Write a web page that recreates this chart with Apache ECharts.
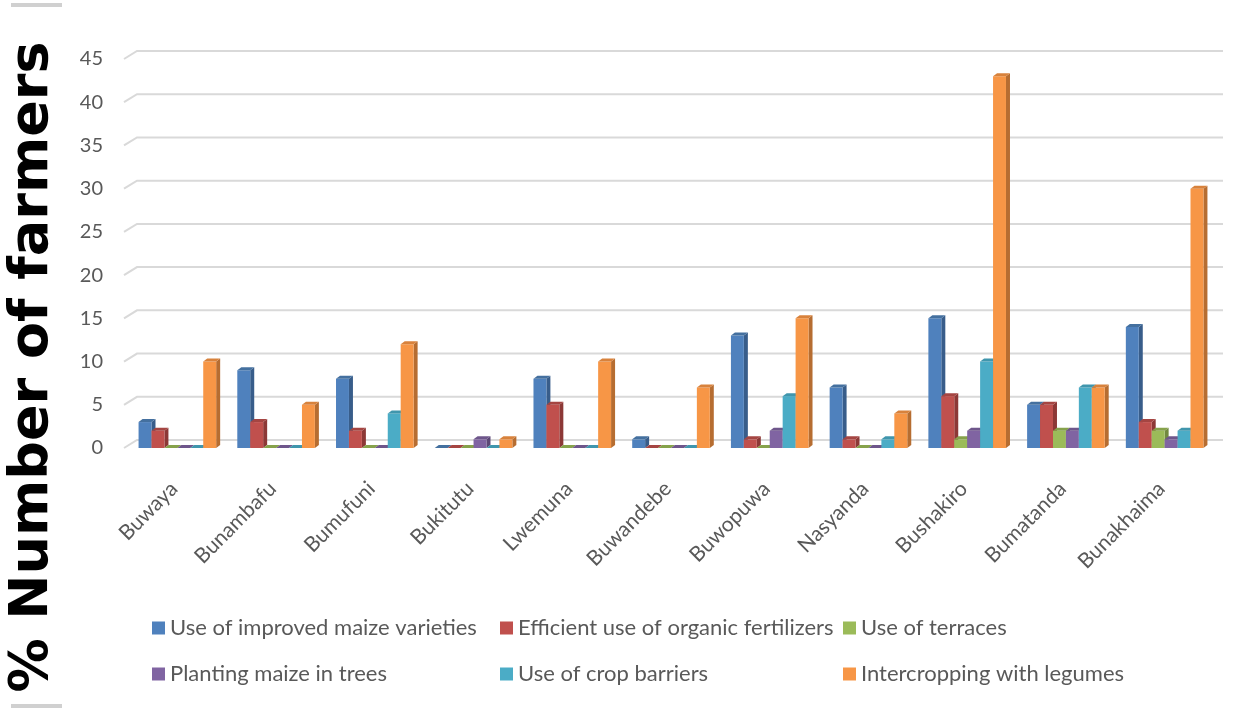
<!DOCTYPE html>
<html>
<head>
<meta charset="utf-8">
<script src="https://cdn.jsdelivr.net/npm/echarts@6/dist/echarts.min.js"></script>
<style>
  html, body { margin: 0; padding: 0; background: #ffffff; }
  #chart { width: 1248px; height: 710px; }
</style>
</head>
<body>
<div id="chart"></div>
<script>
// Villages (sub-counties) on the category axis
const categories = ['Buwaya', 'Bunambafu', 'Bumufuni', 'Bukitutu', 'Lwemuna', 'Buwandebe',
  'Buwopuwa', 'Nasyanda', 'Bushakiro', 'Bumatanda', 'Bunakhaima'];

// % of farmers per practice
const improvedMaize      = [3, 9, 8, 0, 8, 1, 13, 7, 15, 5, 14];
const organicFertilizers = [2, 3, 2, 0, 5, 0, 1, 1, 6, 5, 3];
const terraces           = [0, 0, 0, 0, 0, 0, 0, 0, 1, 2, 2];
const maizeInTrees       = [0, 0, 0, 1, 0, 0, 2, 0, 2, 2, 1];
const cropBarriers       = [0, 0, 4, 0, 0, 0, 6, 1, 10, 7, 2];
const legumes            = [10, 5, 12, 1, 10, 7, 15, 4, 43, 7, 30];

const seriesNames = ['Use of improved maize varieties', 'Efficient use of organic fertilizers',
  'Use of terraces', 'Planting maize in trees', 'Use of crop barriers', 'Intercropping with legumes'];

// Value-axis ticks
const yTicks = [0, 5, 10, 15, 20, 25, 30, 35, 40, 45];

// front / side / top shades for the 3D blocks
const palette = [
  { front: '#4F81BD', side: '#385D8A', top: '#44709F' },
  { front: '#C0504D', side: '#8C3836', top: '#A54542' },
  { front: '#9BBB59', side: '#71893F', top: '#86A24B' },
  { front: '#8064A2', side: '#5C4776', top: '#6E568B' },
  { front: '#4BACC6', side: '#357D91', top: '#4096AD' },
  { front: '#F79646', side: '#B66D31', top: '#D8823C' }
];

const valueSets = [improvedMaize, organicFertilizers, terraces, maizeInTrees, cropBarriers, legumes];

const DEPTH_X = 4, DEPTH_Y = -3;       // bar depth
const WALL_X = 13, WALL_Y = -8;        // back-wall offset for gridlines

function barRenderer(idx) {
  return function (params, api) {
    const cat = api.value(0);
    const val = api.value(1);
    const base = api.coord([cat, 0]);
    const top = api.coord([cat, val]);
    const band = api.size([1, 0])[0];
    const w = band * 0.131;
    const x0 = base[0] - 3 * w + idx * w - 1;
    const x1 = x0 + w;
    const c = palette[idx];
    return {
      type: 'group',
      children: [
        {
          type: 'polygon',
          shape: { points: [[x1, top[1]], [x1 + DEPTH_X, top[1] + DEPTH_Y], [x1 + DEPTH_X, base[1] + DEPTH_Y], [x1, base[1]]] },
          style: { fill: c.side }
        },
        {
          type: 'rect',
          shape: { x: x0, y: top[1], width: w, height: base[1] - top[1] },
          style: { fill: c.front }
        },
        {
          type: 'polygon',
          shape: { points: [[x0, top[1]], [x0 + DEPTH_X, top[1] + DEPTH_Y], [x1 + DEPTH_X, top[1] + DEPTH_Y], [x1, top[1]]] },
          style: { fill: c.top }
        }
      ]
    };
  };
}

const chart = echarts.init(document.getElementById('chart'), null, { renderer: 'canvas' });

const barSeries = valueSets.map((vals, i) => ({
  name: seriesNames[i],
  type: 'custom',
  renderItem: barRenderer(i),
  itemStyle: { color: palette[i].front },
  encode: { x: 0, y: 1 },
  data: vals.map((v, j) => [j, v]),
  z: 3 + i
}));

// Gridlines on the back wall, with the slanted floor-to-wall joint on the left
const gridSeries = {
  type: 'custom',
  silent: true,
  renderItem: function (params, api) {
    const cs = params.coordSys;
    const y = api.coord([0, api.value(1)])[1];
    const xl = cs.x - 5;
    return {
      type: 'polyline',
      shape: { points: [[xl, y], [xl + WALL_X, y + WALL_Y], [cs.x + cs.width + 8, y + WALL_Y]] },
      style: { stroke: '#D9D9D9', lineWidth: 2, fill: null }
    };
  },
  encode: { x: 0, y: 1 },
  data: yTicks.map(v => [0, v]),
  z: 1
};

const legendBase = {
  orient: 'vertical',
  icon: 'rect',
  itemWidth: 13,
  itemHeight: 13,
  itemGap: 24,
  top: 612,
  textStyle: { color: '#595959', fontSize: 22, fontFamily: 'Lato' },
  selectedMode: false
};

chart.setOption({
  backgroundColor: '#ffffff',
  animation: false,
  grid: { left: 129, top: 59, width: 1086, height: 389, containLabel: false },
  legend: [
    Object.assign({}, legendBase, { left: 147, data: [seriesNames[0], seriesNames[3]] }),
    Object.assign({}, legendBase, { left: 495, data: [seriesNames[1], seriesNames[4]] }),
    Object.assign({}, legendBase, { left: 838, data: [seriesNames[2], seriesNames[5]] })
  ],
  xAxis: {
    type: 'category',
    data: categories,
    axisLine: { show: false },
    axisTick: { show: false },
    splitLine: { show: false },
    axisLabel: {
      rotate: 45,
      interval: 0,
      margin: 33,
      color: '#595959',
      fontSize: 21,
      fontFamily: 'Lato',
      padding: [0, 6, 0, 0]
    }
  },
  yAxis: {
    type: 'value',
    min: 0,
    max: 45,
    interval: 5,
    axisLine: { show: false },
    axisTick: { show: false },
    splitLine: { show: false },
    axisLabel: {
      margin: 26,
      color: '#595959',
      fontSize: 20,
      fontFamily: 'Lato',
      padding: [4, 0, 0, 0]
    }
  },
  graphic: [
    {
      type: 'text',
      x: 33,
      y: 367,
      rotation: Math.PI / 2,
      style: {
        text: '% Number of farmers',
        fill: '#000000',
        font: 'bold 54px "DejaVu Sans"',
        textAlign: 'center',
        textVerticalAlign: 'middle'
      }
    },
    { type: 'rect', shape: { x: 11, y: 3, width: 51, height: 4 }, style: { fill: '#D0D0D0' } },
    { type: 'rect', shape: { x: 11, y: 704, width: 51, height: 4 }, style: { fill: '#D0D0D0' } }
  ],
  series: [gridSeries].concat(barSeries)
});
</script>
</body>
</html>
